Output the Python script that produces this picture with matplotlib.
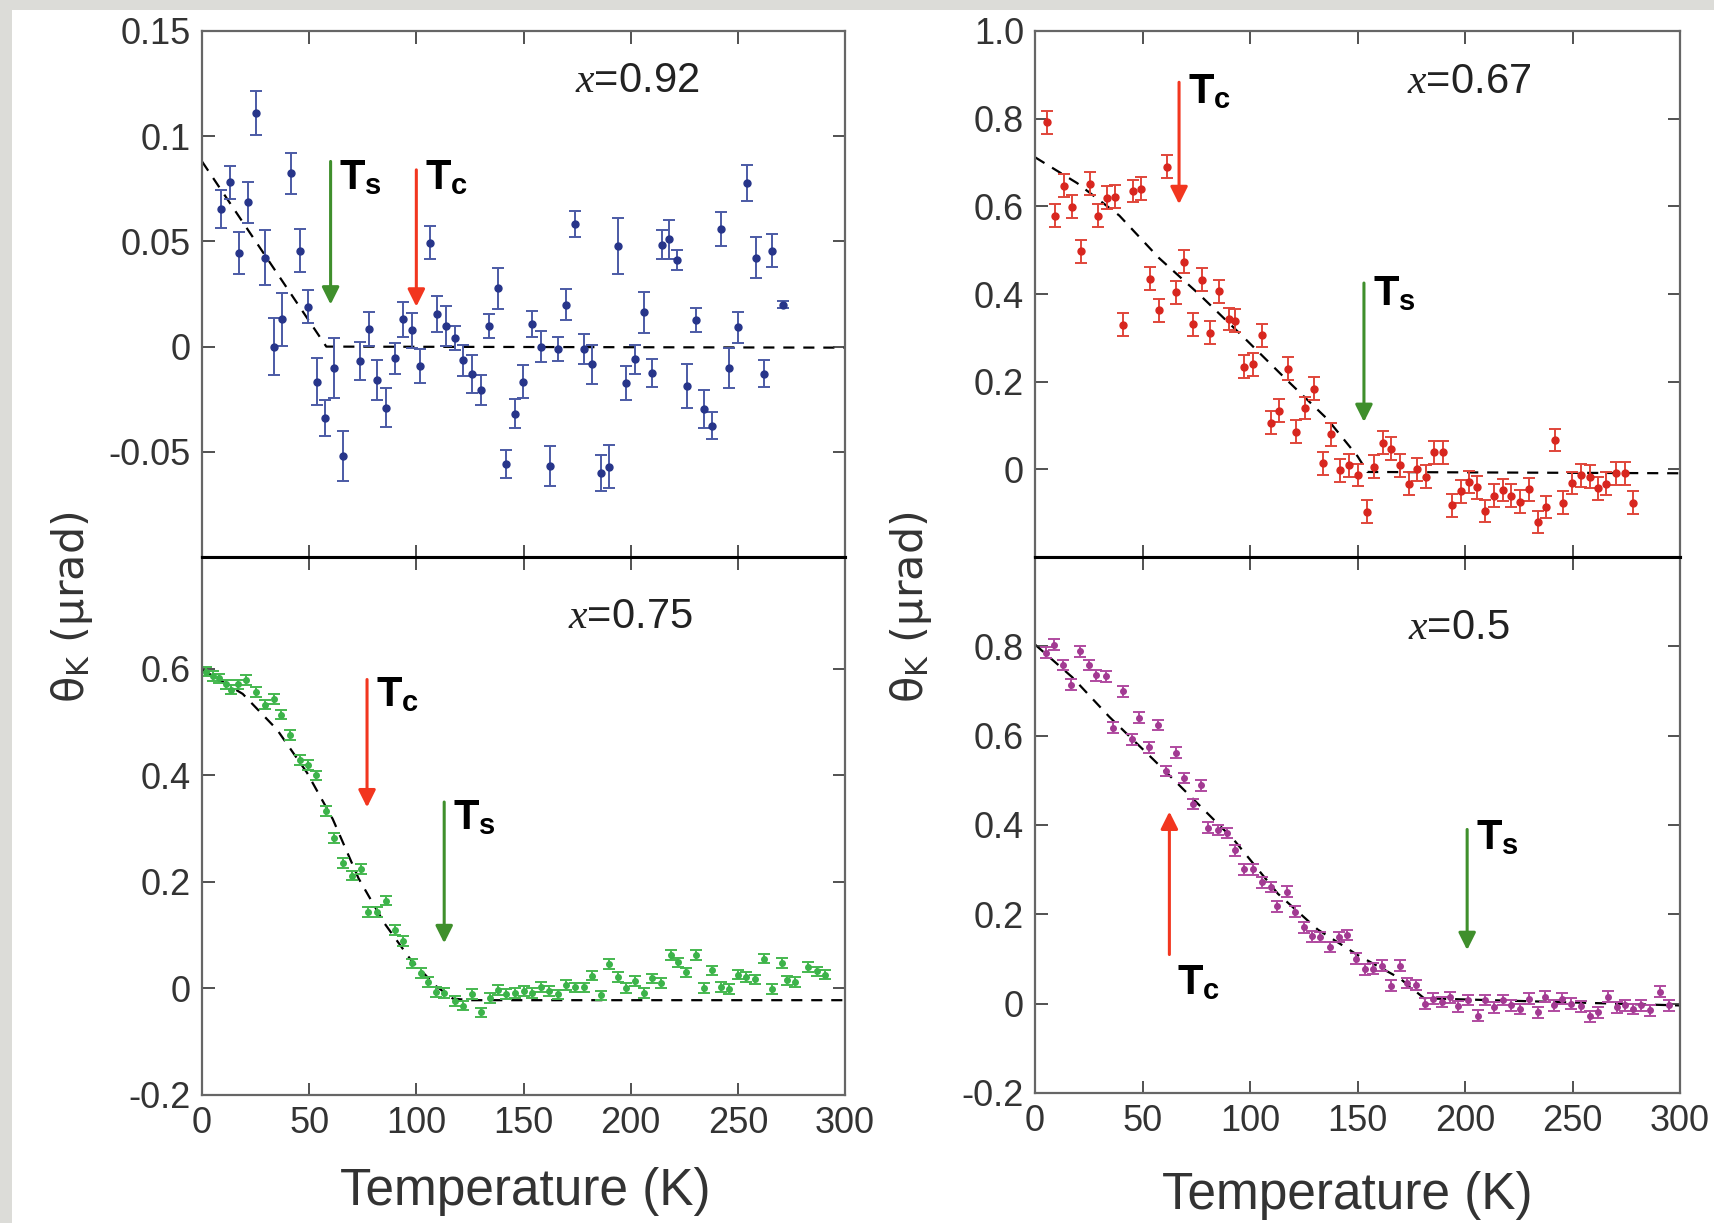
import numpy as np
import matplotlib
matplotlib.use("Agg")
import matplotlib.pyplot as plt
from matplotlib import font_manager
from matplotlib.patches import Rectangle

# шрифты
names = {f.name for f in font_manager.fontManager.ttflist}
narrow = "Liberation Sans Narrow" if "Liberation Sans Narrow" in names else "Liberation Sans"
plt.rcParams["font.family"] = [narrow, "DejaVu Sans"]
plt.rcParams["mathtext.fontset"] = "custom"
plt.rcParams["mathtext.it"] = "Liberation Serif:italic"
plt.rcParams["mathtext.rm"] = "DejaVu Sans"
plt.rcParams["mathtext.bf"] = narrow + ":bold"

# x = 0.92 (синие)
T92 = [9, 13, 17.4, 21.4, 25.4, 29.4, 33.4, 37.4, 41.4, 45.6, 49.6, 53.6, 57.6, 61.6,
       65.6, 73.8, 77.8, 81.8, 85.8, 90, 93.8, 97.8, 101.8, 106.2, 109.8, 114, 118, 122,
       125.8, 130, 134, 138, 142, 146, 149.8, 154, 158, 162.2, 166, 170, 174, 178, 182,
       186, 190, 194, 198, 202, 206, 210, 214.4, 218, 221.6, 226.4, 230.4, 234, 238, 242,
       246, 250, 254.4, 258.4, 262.4, 266, 271]
K92 = [0.0656, 0.078, 0.0445, 0.0686, 0.111, 0.0423, 0.0, 0.013, 0.0824, 0.0456, 0.019,
       -0.0166, -0.034, -0.010, -0.052, -0.0068, 0.0083, -0.016, -0.029, -0.0055, 0.013,
       0.0078, -0.0093, 0.0494, 0.0156, 0.0099, 0.004, -0.0065, -0.013, -0.0207, 0.0098,
       0.0277, -0.0557, -0.032, -0.0166, 0.0107, 0.0, -0.0568, -0.0011, 0.020, 0.0583,
       -0.0011, -0.0085, -0.060, -0.057, 0.0477, -0.0174, -0.006, 0.0163, -0.0125, 0.0485,
       0.051, 0.0412, -0.0186, 0.0127, -0.0296, -0.0375, 0.0559, -0.010, 0.0091, 0.0778,
       0.0423, -0.0129, 0.0456, 0.020]
E92 = [0.009, 0.008, 0.010, 0.0098, 0.0106, 0.013, 0.0137, 0.0126, 0.0098, 0.0103, 0.008,
       0.011, 0.0085, 0.0143, 0.0118, 0.009, 0.008, 0.0095, 0.0092, 0.0073, 0.0083, 0.0084,
       0.0081, 0.0077, 0.0085, 0.0095, 0.0057, 0.0073, 0.009, 0.007, 0.0057, 0.0098, 0.0067,
       0.0069, 0.008, 0.0061, 0.0073, 0.0094, 0.0057, 0.0072, 0.0062, 0.0072, 0.0094, 0.0086,
       0.010, 0.0133, 0.0081, 0.0069, 0.0098, 0.0065, 0.0068, 0.0093, 0.0049, 0.0104, 0.0057,
       0.009, 0.0065, 0.0079, 0.0095, 0.0072, 0.0085, 0.0099, 0.0065, 0.0079, 0.0017]
fitT92 = [0, 58, 300]
fitK92 = [0.088, 0.0, -0.0005]

# x = 0.75 (зелёные)
T75 = [2, 5, 8, 11, 13.4, 16.6, 20.6, 25.4, 29.6, 33.4, 37, 41, 45.6, 49.6, 53.4, 58, 61.6,
       65.6, 70, 74, 77.6, 81.6, 86, 90, 94, 98, 102, 105.6, 109, 113, 118, 122, 126, 130.4,
       134.4, 138, 142, 146, 150, 154, 158, 162, 166, 170, 174, 178, 182, 186, 190, 194, 198,
       202, 206, 210, 214, 218.6, 222, 226, 230.6, 234, 238, 242, 246, 250, 254, 258, 262,
       266, 270.6, 273, 276.6, 282.6, 287, 290.6]
K75 = [0.595, 0.587, 0.582, 0.571, 0.561, 0.571, 0.579, 0.557, 0.533, 0.543, 0.514, 0.476,
       0.429, 0.419, 0.400, 0.333, 0.283, 0.235, 0.212, 0.224, 0.143, 0.143, 0.165, 0.110,
       0.089, 0.047, 0.029, 0.012, -0.007, -0.008, -0.024, -0.032, -0.010, -0.045, -0.018,
       -0.003, -0.010, -0.008, -0.005, -0.008, 0.003, -0.005, -0.011, 0.007, 0.002, 0.002,
       0.024, -0.013, 0.046, 0.022, 0.001, 0.014, -0.008, 0.019, 0.010, 0.063, 0.049, 0.030,
       0.063, 0.001, 0.034, 0.003, -0.001, 0.026, 0.022, 0.017, 0.056, -0.001, 0.048, 0.015,
       0.012, 0.040, 0.032, 0.026]
E75 = 0.009
fitT75 = [0, 19, 35, 49, 61, 73, 85, 97, 109, 117, 125, 300]
fitK75 = [0.599, 0.553, 0.486, 0.405, 0.318, 0.207, 0.123, 0.056, 0.005, -0.019, -0.022, -0.022]

# x = 0.67 (красные)
T67 = [5.8, 9.2, 13.4, 17.3, 21.2, 25.4, 29.3, 33.5, 37.4, 41.1, 45.5, 49.2, 53.5, 57.5,
       61.4, 65.5, 69.2, 73.4, 77.8, 81.5, 85.8, 90, 93, 97.4, 101.5, 105.7, 109.6, 113.5,
       117.7, 121.6, 125.8, 129.7, 133.8, 137.8, 141.9, 146, 150, 154.2, 157.6, 162, 165.7,
       169.6, 173.8, 177.7, 181.9, 185.8, 189.7, 193.8, 198, 201.9, 205.4, 209.5, 213.5,
       217.6, 221.5, 225.7, 229.6, 233.8, 237.7, 241.8, 245.8, 249.9, 253.8, 258, 261.9,
       265.8, 270, 274.2, 278.1]
K67 = [0.792, 0.579, 0.647, 0.599, 0.497, 0.652, 0.579, 0.620, 0.622, 0.330, 0.635, 0.640,
       0.435, 0.363, 0.690, 0.404, 0.474, 0.331, 0.433, 0.312, 0.406, 0.343, 0.339, 0.234,
       0.240, 0.306, 0.106, 0.134, 0.230, 0.086, 0.140, 0.184, 0.014, 0.080, -0.002, 0.009,
       -0.013, -0.097, 0.006, 0.061, 0.047, 0.009, -0.033, 0.0, -0.017, 0.039, 0.039, -0.082,
       -0.050, -0.029, -0.041, -0.095, -0.060, -0.047, -0.060, -0.074, -0.046, -0.120,
       -0.086, 0.067, -0.076, -0.031, -0.014, -0.017, -0.043, -0.033, -0.009, -0.009, -0.076]
E67 = 0.026
fitT67 = [0, 19.6, 39.2, 57.7, 76.2, 96.9, 117.7, 135.9, 150, 154.6, 300]
fitK67 = [0.712, 0.653, 0.579, 0.482, 0.400, 0.302, 0.201, 0.115, 0.030, -0.006, -0.009]

# x = 0.5 (пурпурные)
T50 = [5.1, 8.8, 12.9, 16.6, 20.8, 24.9, 28.4, 32.8, 36.5, 40.8, 45, 48.5, 53.1, 57.2, 60.9,
       65.8, 69.2, 73.4, 77.3, 80.3, 84.9, 89.5, 93, 97.4, 101.5, 105.7, 109.6, 112.6, 117,
       120.9, 125.1, 128.8, 132.7, 137.3, 141.2, 144.9, 149.5, 153.5, 157.4, 161.5, 165.7,
       169.6, 173.1, 177.2, 181.2, 185.3, 189.2, 193.2, 196.9, 201.5, 206.1, 209.5, 213.5,
       217.6, 221.5, 225.7, 229.6, 233.8, 237.2, 241.6, 245.1, 249.2, 253.8, 258, 261.9,
       266.5, 270.5, 274.6, 278.1, 282, 286.2, 290.8, 295]
K50 = [0.786, 0.804, 0.758, 0.714, 0.789, 0.758, 0.735, 0.733, 0.618, 0.699, 0.592, 0.640,
       0.574, 0.624, 0.521, 0.562, 0.505, 0.447, 0.489, 0.394, 0.389, 0.382, 0.343, 0.301,
       0.301, 0.272, 0.261, 0.218, 0.251, 0.206, 0.171, 0.151, 0.149, 0.127, 0.149, 0.154,
       0.101, 0.077, 0.078, 0.085, 0.040, 0.085, 0.046, 0.042, 0.0, 0.011, 0.004, 0.014,
       -0.006, 0.008, -0.027, 0.008, -0.008, 0.008, -0.004, -0.012, 0.011, -0.019, 0.016,
       -0.004, 0.011, 0.0, -0.006, -0.028, -0.019, 0.016, -0.008, -0.004, -0.012, -0.004,
       -0.015, 0.027, -0.004]
E50 = 0.012
fitT50 = [0, 17.3, 34.6, 55.4, 73.8, 92.3, 113, 131.5, 150, 169.6, 181, 300]
fitK50 = [0.804, 0.731, 0.642, 0.545, 0.457, 0.368, 0.246, 0.166, 0.109, 0.057, 0.012, -0.004]

# стрелки Tc / Ts: (T, начало, конец)
arrows92 = {"s": (60, 0.088, 0.020), "c": (100, 0.084, 0.019)}
arrows75 = {"c": (77, 0.58, 0.34), "s": (113, 0.35, 0.085)}
arrows67 = {"c": (67, 0.883, 0.605), "s": (153, 0.425, 0.108)}
arrows50 = {"c": (62.5, 0.11, 0.43), "s": (201, 0.39, 0.12)}

W, H = 1714, 1223
fig = plt.figure(figsize=(W / 100, H / 100), dpi=100)
fig.patch.set_facecolor("#dcdcd8")
fig.add_artist(Rectangle((12 / W, 0), 1, 1 - 10 / H, transform=fig.transFigure,
                         facecolor="white", edgecolor="none", zorder=-1))


def box(x0, y0, x1, y1):
    return [x0 / W, 1 - y1 / H, (x1 - x0) / W, (y1 - y0) / H]


ax_tl = fig.add_axes(box(202, 31, 845, 557))
ax_bl = fig.add_axes(box(202, 557, 845, 1095))
ax_tr = fig.add_axes(box(1035, 31, 1680, 557))
ax_br = fig.add_axes(box(1035, 557, 1680, 1093))

red_arrow = "#f2361f"
green_arrow = "#3f8f2c"


def draw(ax, T, K, err, col, ecol, ms, fitT, fitK, arrows, label, lab_xy):
    ax.plot(fitT, fitK, "--", color="black", lw=1.6, dashes=(5, 4), zorder=1)
    ax.errorbar(T, K, yerr=err, fmt="o", ms=ms, color=col, ecolor=ecol,
                elinewidth=1.4, capsize=4, capthick=1.4, zorder=2)
    for key, (t, y0, y1) in arrows.items():
        c = red_arrow if key == "c" else green_arrow
        ax.annotate("", xy=(t, y1), xytext=(t, y0),
                    arrowprops=dict(arrowstyle="-|>", color=c, lw=2.2,
                                    mutation_scale=26, shrinkA=0, shrinkB=0))
    ax.text(lab_xy[0], lab_xy[1], label, fontsize=30, family="Liberation Sans",
            ha="center", va="center", color="#222222")
    ax.set_xlim(0, 300)


def tlabel(ax, t, y, sub, va="center"):
    ax.text(t, y, r"$\mathbf{T}_{\mathbf{%s}}$" % sub, fontsize=30, ha="left", va=va,
            color="black")


draw(ax_tl, T92, K92, E92, "#27358a", "#4b5aa5", 5, fitT92, fitK92, arrows92,
     "$x$=0.92", (203, 0.126))
tlabel(ax_tl, 64, 0.080, "s")
tlabel(ax_tl, 104, 0.080, "c")
ax_tl.set_ylim(-0.1, 0.15)
ax_tl.set_yticks([-0.05, 0, 0.05, 0.1, 0.15])
ax_tl.set_yticklabels(["-0.05", "0", "0.05", "0.1", "0.15"])

draw(ax_bl, T75, K75, E75, "#3cb34a", "#45b84f", 4, fitT75, fitK75, arrows75,
     "$x$=0.75", (200, 0.697))
tlabel(ax_bl, 81, 0.55, "c")
tlabel(ax_bl, 117, 0.32, "s")
ax_bl.set_ylim(-0.2, 0.81)
ax_bl.set_yticks([-0.2, 0, 0.2, 0.4, 0.6])
ax_bl.set_yticklabels(["-0.2", "0", "0.2", "0.4", "0.6"])

draw(ax_tr, T67, K67, E67, "#d8261f", "#e0453a", 5, fitT67, fitK67, arrows67,
     "$x$=0.67", (202, 0.883))
tlabel(ax_tr, 71, 0.86, "c")
tlabel(ax_tr, 157, 0.40, "s")
ax_tr.set_ylim(-0.2, 1.0)
ax_tr.set_yticks([0, 0.2, 0.4, 0.6, 0.8, 1.0])
ax_tr.set_yticklabels(["0", "0.2", "0.4", "0.6", "0.8", "1.0"])

draw(ax_br, T50, K50, E50, "#a23a92", "#b04aa0", 4, fitT50, fitK50, arrows50,
     "$x$=0.5", (197, 0.84))
tlabel(ax_br, 66, 0.09, "c", va="top")
tlabel(ax_br, 205, 0.37, "s")
ax_br.set_ylim(-0.2, 1.0)
ax_br.set_yticks([-0.2, 0, 0.2, 0.4, 0.6, 0.8])
ax_br.set_yticklabels(["-0.2", "0", "0.2", "0.4", "0.6", "0.8"])

for ax in (ax_tl, ax_bl, ax_tr, ax_br):
    ax.set_xticks([0, 50, 100, 150, 200, 250, 300])
    ax.tick_params(direction="in", top=True, right=True, length=9, width=1.2,
                   color="#333333", labelsize=26, labelcolor="#333333", pad=8)
    for s in ax.spines.values():
        s.set_color("#666666")
        s.set_linewidth(1.6)

for ax in (ax_tl, ax_tr):
    ax.tick_params(labelbottom=False)
    ax.spines["bottom"].set_color("black")
    ax.spines["bottom"].set_linewidth(2.2)
for ax in (ax_bl, ax_br):
    ax.spines["top"].set_color("black")
    ax.spines["top"].set_linewidth(2.2)

ylab = "θ$_{\\rm K}$ (μrad)"
fig.text(72 / W, 1 - 607 / H, ylab, rotation=90, fontsize=31, family="DejaVu Sans",
         ha="center", va="center", color="#333333")
fig.text(911 / W, 1 - 607 / H, ylab, rotation=90, fontsize=31, family="DejaVu Sans",
         ha="center", va="center", color="#333333")
fig.text(525 / W, 1 - 1191 / H, "Temperature (K)", fontsize=37, ha="center",
         va="center", color="#333333")
fig.text(1347 / W, 1 - 1195 / H, "Temperature (K)", fontsize=37, ha="center",
         va="center", color="#333333")

fig.savefig("out.png", dpi=100, facecolor=fig.get_facecolor())
